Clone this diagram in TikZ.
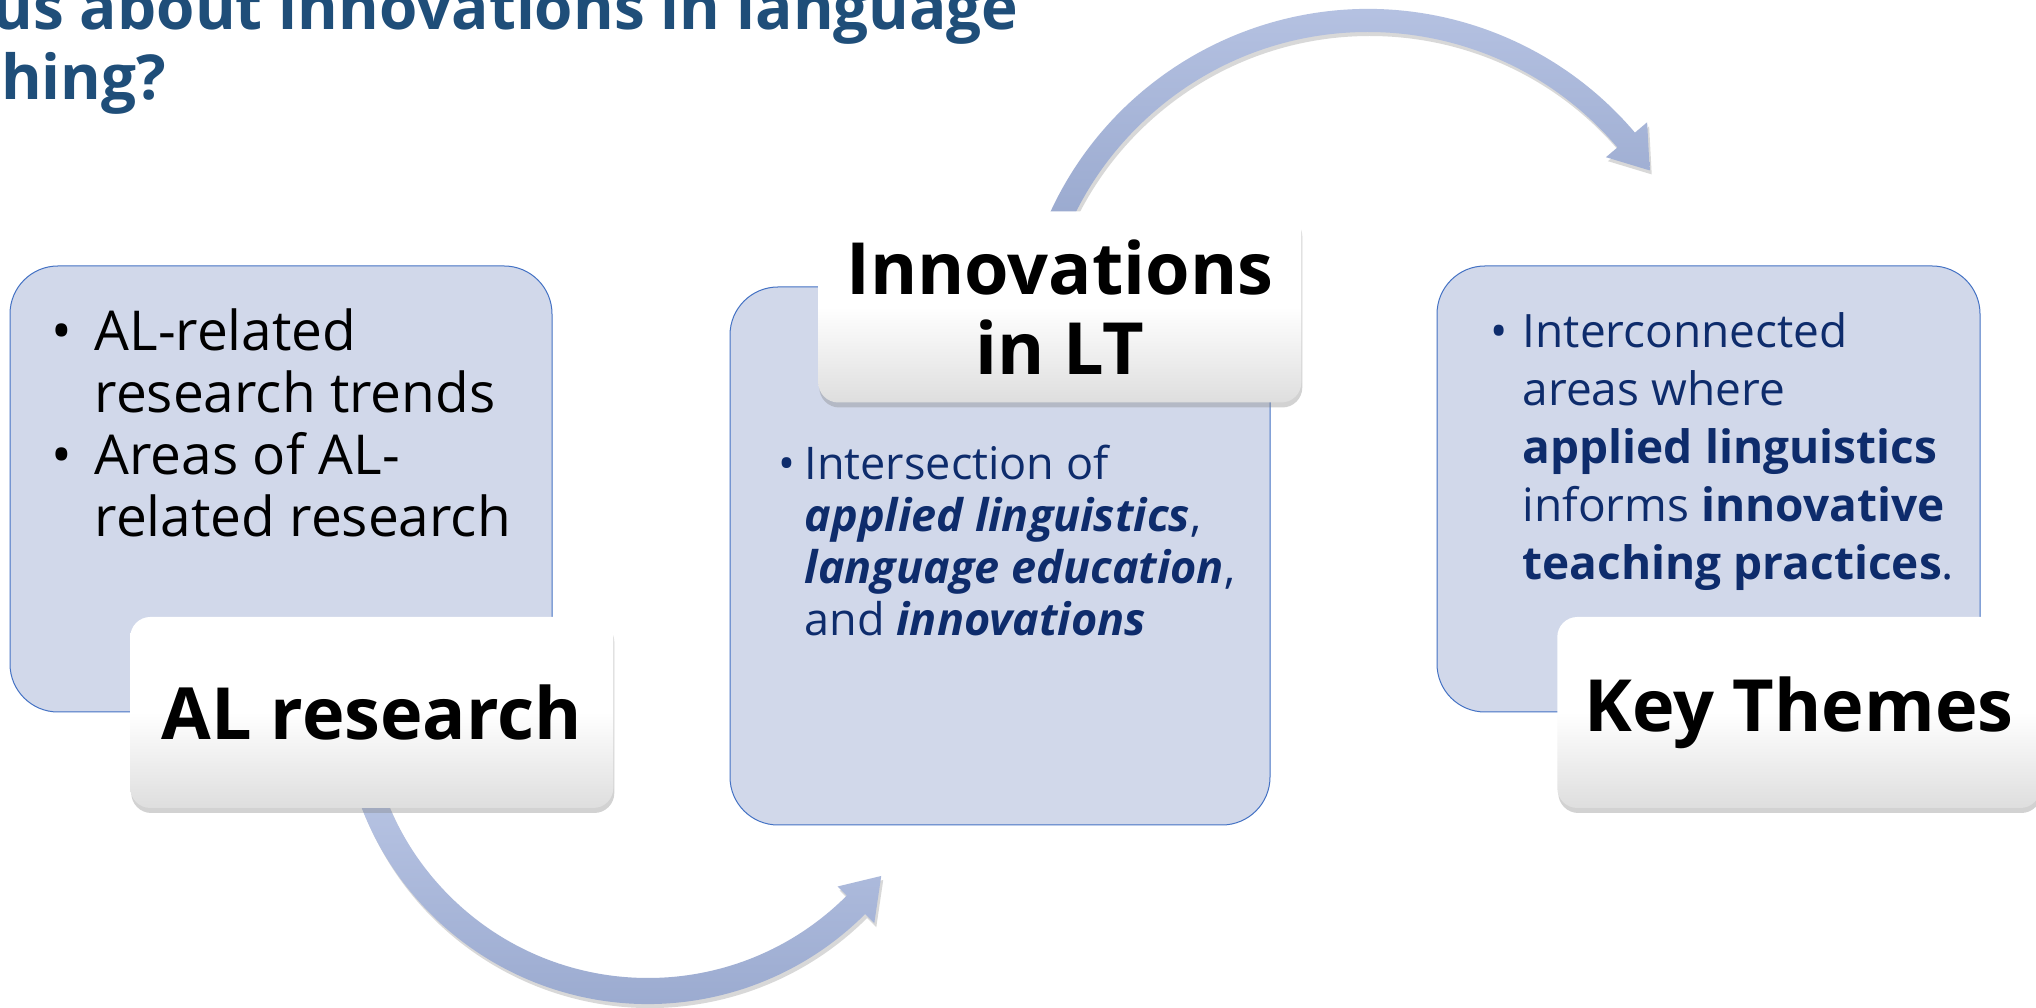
\documentclass[tikz,border=0pt]{standalone}
\usepackage{fontspec}
\setmainfont{Open Sans}
\usetikzlibrary{positioning,shadows}

\definecolor{boxfill}{RGB}{209,216,234}
\definecolor{boxline}{RGB}{68,114,196}
\definecolor{arrowtop}{RGB}{186,198,229}
\definecolor{arrowbot}{RGB}{151,167,205}
\definecolor{navy}{RGB}{14,44,108}
\definecolor{titleblue}{RGB}{31,78,121}

\newcommand{\bull}{\textbullet}
\newcommand{\bi}[1]{\textbf{\textit{#1}}}

\begin{document}
\begin{tikzpicture}[
    x=1pt, y=1pt,
    bluebox/.style={draw=boxline,line width=1pt,fill=boxfill,rounded corners=48pt},
    tagbox/.style={rounded corners=20pt,top color=white,bottom color=black!13,middle color=white,
      drop shadow={opacity=0.35,shadow xshift=1pt,shadow yshift=-5pt},
      minimum width=483pt,minimum height=191pt,align=center,
      font=\fontsize{72}{80}\selectfont\bfseries},
    bodytext/.style={anchor=base west,inner sep=0pt},
    bigarrow/.style={top color=arrowtop,bottom color=arrowbot,
      drop shadow={opacity=0.3,shadow xshift=2pt,shadow yshift=-4pt}},
    titletext/.style={inner sep=0pt,text=titleblue,
      font=\fontsize{62}{70}\selectfont\bfseries}
  ]
  \useasboundingbox (0,0) rectangle (2036,1008);
  \fill[white] (0,0) rectangle (2036,1008);
  \clip (0,0) rectangle (2036,1008);

  % title, cut at the left
  \node[titletext,anchor=base east] (title1) at (1019,978) {us about innovations in language};
  \node[titletext,anchor=base west] (title2) at (1,908) {hing?};

  % the three boxes
  \node[bluebox,minimum width=542pt,minimum height=446pt] (albox) at (281,519) {};
  \node[bluebox,minimum width=540pt,minimum height=538pt] (ltbox) at (1000,452) {};
  \node[bluebox,minimum width=543pt,minimum height=446pt] (ktbox) at (1708.5,519) {};

  \node[bodytext,font=\fontsize{55}{62}\selectfont] (altext) at ([shift={(42,-85)}]albox.north west)
    {\begin{tabular}[t]{@{}p{43pt}@{}l@{}}
      \bull & AL-related\\
            & research trends\\
      \bull & Areas of AL-\\
            & related research
    \end{tabular}};
  \node[bodytext,text=navy,font=\fontsize{45}{52}\selectfont] (lttext) at ([shift={(49,-193)}]ltbox.north west)
    {\begin{tabular}[t]{@{}p{26pt}@{}l@{}}
      \bull & Intersection of\\
            & \bi{applied linguistics},\\
            & \bi{language education},\\
            & and \bi{innovations}
    \end{tabular}};
  \node[bodytext,text=navy,font=\fontsize{46}{58}\selectfont] (kttext) at ([shift={(54,-82)}]ktbox.north west)
    {\begin{tabular}[t]{@{}p{32pt}@{}l@{}}
      \bull & Interconnected\\
            & areas where\\
            & \textbf{applied linguistics}\\
            & informs \textbf{innovative}\\
            & \textbf{teaching practices}.
    \end{tabular}};

  % curved arrows
  \coordinate (c1) at (648,311);
  \coordinate (c2) at (1368,649);
  \path[bigarrow] ([shift={(195:307)}]c1) arc[start angle=195,end angle=315,radius=307]
    -- ([shift={(315:320)}]c1) -- ([shift={(322.5:294)}]c1) -- ([shift={(315:268)}]c1)
    -- ([shift={(315:281)}]c1) arc[start angle=315,end angle=195,radius=281] -- cycle;
  \path[bigarrow] ([shift={(160:350)}]c2) arc[start angle=160,end angle=40.3,radius=350]
    -- ([shift={(40.3:366)}]c2) -- ([shift={(33.8:339)}]c2) -- ([shift={(40.3:312)}]c2)
    -- ([shift={(40.3:327)}]c2) arc[start angle=40.3,end angle=160,radius=327] -- cycle;

  % labels
  \node[tagbox,anchor=east] (allabel) at ([xshift=61pt]albox.south east) {AL research};
  \node[tagbox,anchor=east] (ltlabel) at ([shift={(31,-20.5)}]ltbox.north east) {Innovations\\in LT};
  \node[tagbox,anchor=east] (ktlabel) at ([xshift=60pt]ktbox.south east) {Key Themes};
\end{tikzpicture}
\end{document}
